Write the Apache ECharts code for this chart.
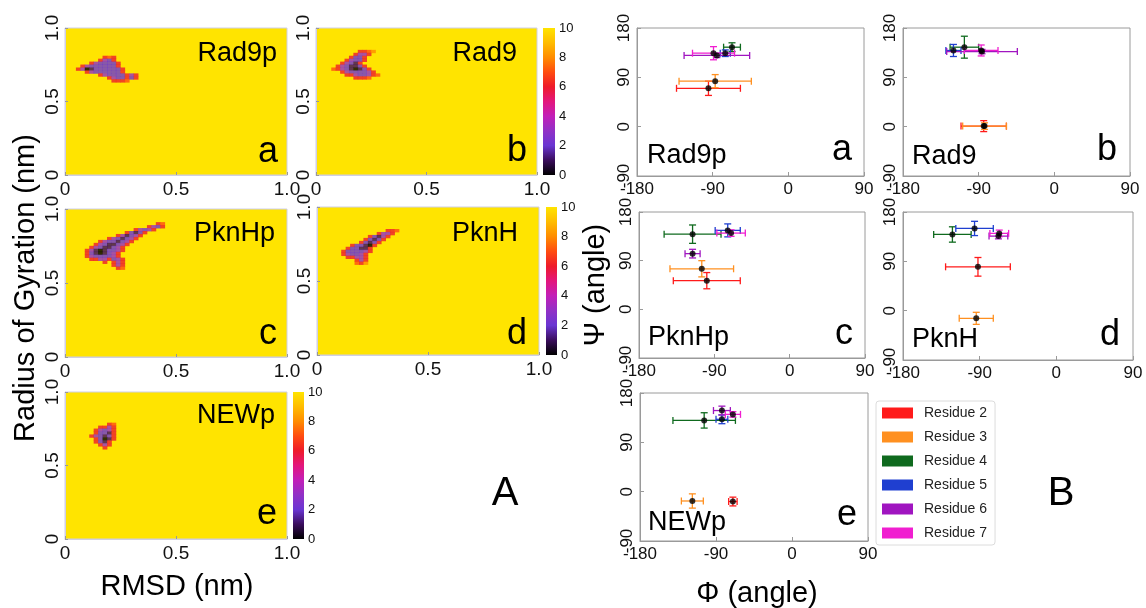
<!DOCTYPE html>
<html>
<head>
<meta charset="utf-8">
<script src="https://cdn.jsdelivr.net/npm/echarts@6/dist/echarts.min.js"></script>
<style>
  html, body { margin: 0; padding: 0; background: #fff; }
  #chart { width: 1146px; height: 608px; }
</style>
</head>
<body>
<div id="chart"></div>
<script>
// ---- A: free energy maps (RMSD vs Rg). only the low basin is listed, every other cell is 10 (yellow)
// one char per 0.02 x 0.02 cell, '.' = 10, rows go downwards from y0
const cellStep = 0.02;
const rad9pCells = { x0: 0.06, y0: 0.80, rows: [
  '......676.....',
  '.....6326.....',
  '...6322226....',
  '.632222226....',
  '63012222226...',
  '..632222226...',
  '.....632222636',
  '.......6322626',
  '........6667..'
]};
const rad9Cells = { x0: 0.08, y0: 0.84, rows: [
  '......6678.',
  '.....6336..',
  '....6226...',
  '...63226...',
  '..63216....',
  '.6321126...',
  '763210126..',
  '..63222236.',
  '...66322367',
  '.....6667..'
]};
const pknHpCells = { x0: 0.10, y0: 0.90, rows: [
  '................67',
  '..............6326',
  '...........63236..',
  '.........62126....',
  '.......631236.....',
  '.....6321236......',
  '...63221236.......',
  '..63211236........',
  '.63211236.........',
  '631012236.........',
  '62101236..........',
  '63222236..........',
  '.66336236.........',
  '....6.636.........',
  '......636.........',
  '.......67.........'
]};
const pknHCells = { x0: 0.12, y0: 0.84, rows: [
  '..........667',
  '........6336.',
  '......62136..',
  '.....62126...',
  '....62126....',
  '..622106.....',
  '.622116......',
  '6222236......',
  '632236.......',
  '.66336.......',
  '...636.......',
  '...768.......'
]};
const newpCells = { x0: 0.12, y0: 0.78, rows: [
  '....67.',
  '..6636.',
  '.63236.',
  '.62216.',
  '632126.',
  '.62016.',
  '.6216..',
  '..636..',
  '...6...'
]};
const cbTicks = [0, 2, 4, 6, 8, 10];

// ---- B: mean phi, psi and their spread, residue 2..7
const residues = ['Residue 2', 'Residue 3', 'Residue 4', 'Residue 5', 'Residue 6', 'Residue 7'];
// [phi, psi, phi err, psi err]
const rad9pAngles = [[-95, 70, 38, 13], [-87, 83, 43, 12], [-67, 145, 10, 8], [-75, 134, 6, 6], [-85, 130, 39, 4], [-89, 134, 25, 12]];
const rad9Angles = [[-84, 1, 27, 10], [-83, 1, 26, 6], [-107, 145, 17, 20], [-120, 139, 9, 11], [-86, 137, 42, 4], [-87, 139, 20, 10]];
const pknHpAngles = [[-99, 53, 40, 15], [-105, 75, 38, 15], [-116, 139, 34, 17], [-74, 146, 15, 12], [-116, 103, 9, 8], [-70, 141, 17, 6]];
const pknHAngles = [[-92, 80, 38, 17], [-94, -14, 20, 11], [-122, 139, 22, 14], [-96, 150, 22, 13], [-68, 136, 11, 5], [-67, 141, 11, 6]];
const newpAngles = [[-70, -18, 5, 8], [-118, -17, 13, 13], [-104, 130, 37, 14], [-83, 132, 7, 8], [-83, 148, 10, 8], [-70, 141, 9, 5]];

const panelNames = ['Rad9p', 'Rad9', 'PknHp', 'PknH', 'NEWp'];
const panelLetters = ['a', 'b', 'c', 'd', 'e'];

const FONT = 'Liberation Sans, Arial, sans-serif';
const palette = ['#000000', '#3a0d5c', '#6a36d2', '#9131c6', '#c21fb8', '#e3167c', '#ee1b2a', '#ff4c10', '#ff8c00', '#ffbc00', '#ffe400'];
const residueColors = ['#ff1a1a', '#ff9020', '#0f6a1e', '#1f3fd0', '#a015c0', '#f01ed0'];

const heatLayout = [
  { left: 65, top: 28, width: 222, height: 147 },
  { left: 316, top: 28, width: 221, height: 147 },
  { left: 65, top: 209, width: 222, height: 148 },
  { left: 317, top: 207, width: 222, height: 148 },
  { left: 65, top: 392, width: 222, height: 147 }
];
const cbLayout = [
  { left: 543, top: 28, width: 12, height: 147 },
  { left: 546, top: 207, width: 11, height: 148 },
  { left: 293, top: 392, width: 11, height: 147 }
];
const ramaLayout = [
  { left: 637, top: 28, width: 227, height: 148 },
  { left: 903, top: 28, width: 227, height: 148 },
  { left: 639, top: 212, width: 226, height: 146 },
  { left: 903, top: 212, width: 230, height: 148 },
  { left: 640, top: 393, width: 228, height: 148 }
];

function toCells(blob) {
  const out = [];
  blob.rows.forEach(function (row, j) {
    for (let i = 0; i < row.length; i++) {
      if (row[i] === '.') continue;
      out.push([+(blob.x0 + i * cellStep).toFixed(3), +(blob.y0 - j * cellStep).toFixed(3), Number(row[i])]);
    }
  });
  return out;
}

function errorBars(color) {
  return function (params, api) {
    const c = api.coord([api.value(0), api.value(1)]);
    const half = api.size([api.value(2), api.value(3)]);
    const dx = half[0], dy = half[1], cap = 3.5;
    const seg = function (x1, y1, x2, y2) {
      return { type: 'line', shape: { x1: x1, y1: y1, x2: x2, y2: y2 }, style: { stroke: color, lineWidth: 1.3 } };
    };
    return { type: 'group', children: [
      seg(c[0] - dx, c[1], c[0] + dx, c[1]),
      seg(c[0] - dx, c[1] - cap, c[0] - dx, c[1] + cap),
      seg(c[0] + dx, c[1] - cap, c[0] + dx, c[1] + cap),
      seg(c[0], c[1] - dy, c[0], c[1] + dy),
      seg(c[0] - cap, c[1] - dy, c[0] + cap, c[1] - dy),
      seg(c[0] - cap, c[1] + dy, c[0] + cap, c[1] + dy)
    ]};
  };
}

const heatBlobs = [rad9pCells, rad9Cells, pknHpCells, pknHCells, newpCells];
const ramaSets = [rad9pAngles, rad9Angles, pknHpAngles, pknHAngles, newpAngles];

const grid = [], xAxis = [], yAxis = [], series = [];

// heat panels
heatLayout.forEach(function (g, i) {
  grid.push(Object.assign({ show: true, backgroundColor: palette[10], borderColor: '#cfcfe4', borderWidth: 1, outerBoundsMode: 'none' }, g));
  const lab = { fontSize: 19, color: '#111', fontFamily: FONT, formatter: function (v) { return v === 0 ? '0' : v.toFixed(1); } };
  xAxis.push({ type: 'value', gridIndex: grid.length - 1, min: 0, max: 1, interval: 0.5,
    axisLine: { onZero: false, lineStyle: { color: '#cfcfe4' } }, axisTick: { inside: true, length: 3, lineStyle: { color: '#999' } },
    splitLine: { show: false }, axisLabel: Object.assign({ margin: 5 }, lab) });
  yAxis.push({ type: 'value', gridIndex: grid.length - 1, min: 0, max: 1, interval: 0.5,
    axisLine: { show: true, onZero: false, lineStyle: { color: '#cfcfe4' } }, axisTick: { show: true, inside: true, length: 3, lineStyle: { color: '#999' } },
    splitLine: { show: false }, axisLabel: Object.assign({ margin: 3, rotate: 90 }, lab) });
  series.push({ type: 'scatter', xAxisIndex: xAxis.length - 1, yAxisIndex: yAxis.length - 1, silent: true,
    symbol: 'rect', symbolSize: [g.width * cellStep + 0.4, g.height * cellStep + 0.4],
    data: toCells(heatBlobs[i]) });
});

// colour bars
cbLayout.forEach(function (g) {
  grid.push(Object.assign({ outerBoundsMode: 'none' }, g));
  xAxis.push({ type: 'category', gridIndex: grid.length - 1, data: [''], show: false });
  yAxis.push({ type: 'value', gridIndex: grid.length - 1, position: 'right', min: cbTicks[0], max: cbTicks[cbTicks.length - 1], interval: 2,
    axisLine: { show: false }, axisTick: { show: false }, splitLine: { show: false },
    axisLabel: { fontSize: 13, color: '#111', fontFamily: FONT, margin: 4 } });
  series.push({ type: 'bar', xAxisIndex: xAxis.length - 1, yAxisIndex: yAxis.length - 1, silent: true, barWidth: '100%',
    data: [cbTicks[cbTicks.length - 1]],
    itemStyle: { color: new echarts.graphic.LinearGradient(0, 1, 0, 0, palette.map(function (c, k) { return { offset: k / 10, color: c }; })) } });
});

// ramachandran panels
ramaLayout.forEach(function (g, i) {
  grid.push(Object.assign({ show: true, borderColor: '#9a9a9a', borderWidth: 1, outerBoundsMode: 'none' }, g));
  const gi = grid.length - 1;
  xAxis.push({ type: 'value', gridIndex: gi, min: -180, max: 90, interval: 90,
    axisLine: { onZero: false, lineStyle: { color: '#9a9a9a' } }, axisTick: { inside: true, length: 4, lineStyle: { color: '#9a9a9a' } },
    splitLine: { show: false }, axisLabel: { fontSize: 17, color: '#111', fontFamily: FONT, margin: 5 } });
  yAxis.push({ type: 'value', gridIndex: gi, min: -90, max: 180, interval: 90,
    axisLine: { show: true, onZero: false, lineStyle: { color: '#9a9a9a' } }, axisTick: { show: true, inside: true, length: 4, lineStyle: { color: '#9a9a9a' } },
    splitLine: { show: false }, axisLabel: { fontSize: 17, color: '#111', fontFamily: FONT, margin: 4, rotate: 90 } });
  const set = ramaSets[i];
  residues.forEach(function (name, r) {
    series.push({ type: 'custom', name: name, xAxisIndex: xAxis.length - 1, yAxisIndex: yAxis.length - 1, silent: true,
      itemStyle: { color: residueColors[r] }, encode: { x: 0, y: 1 },
      renderItem: errorBars(residueColors[r]), data: [set[r]] });
  });
  series.push({ type: 'scatter', name: 'mean', xAxisIndex: xAxis.length - 1, yAxisIndex: yAxis.length - 1, silent: true, z: 5,
    symbolSize: 6, itemStyle: { color: '#000' }, data: set.map(function (a) { return [a[0], a[1]]; }) });
});

function txt(x, y, text, size, align, rot) {
  return { type: 'text', x: x, y: y, rotation: rot || 0, silent: true,
    style: { text: text, fontSize: size, fontFamily: FONT, fill: '#000', textAlign: align, textVerticalAlign: 'middle' } };
}

const heatNamePos = [[277, 54], [517, 54], [275, 234], [518, 234], [275, 416]];
const heatLetterPos = [[278, 152], [527, 151], [277, 334], [527, 334], [277, 514]];
const ramaNamePos = [[647, 156], [912, 157], [648, 338], [912, 340], [648, 523]];
const ramaLetterPos = [[852, 150], [1117, 150], [853, 334], [1120, 335], [857, 515]];

const graphic = [];
panelNames.forEach(function (n, i) {
  graphic.push(txt(heatNamePos[i][0], heatNamePos[i][1], n, 27, 'right'));
  graphic.push(txt(heatLetterPos[i][0], heatLetterPos[i][1], panelLetters[i], 36, 'right'));
  graphic.push(txt(ramaNamePos[i][0], ramaNamePos[i][1], n, 27, 'left'));
  graphic.push(txt(ramaLetterPos[i][0], ramaLetterPos[i][1], panelLetters[i], 36, 'right'));
});
graphic.push(txt(505, 494, 'A', 40, 'center'));
graphic.push(txt(1061, 494, 'B', 40, 'center'));
graphic.push(txt(177, 587, 'RMSD (nm)', 29, 'center'));
graphic.push(txt(757, 594, 'Φ (angle)', 29, 'center'));
graphic.push(txt(26, 288, 'Radius of Gyration (nm)', 29, 'center', Math.PI / 2));
graphic.push(txt(596, 285, 'Ψ (angle)', 29, 'center', Math.PI / 2));

const chart = echarts.init(document.getElementById('chart'));
chart.setOption({
  animation: false,
  backgroundColor: '#fff',
  grid: grid,
  xAxis: xAxis,
  yAxis: yAxis,
  visualMap: { type: 'continuous', show: false, min: 0, max: 10, dimension: 2, seriesIndex: [0, 1, 2, 3, 4], inRange: { color: palette } },
  legend: {
    data: residues.map(function (n, i) { return { name: n, itemStyle: { color: residueColors[i] } }; }),
    orient: 'vertical', left: 876, top: 401, padding: [5, 8, 5, 6], itemGap: 10,
    itemWidth: 31, itemHeight: 11, icon: 'rect', selectedMode: false,
    borderColor: '#dcdcdc', borderWidth: 1, borderRadius: 3,
    textStyle: { fontSize: 14, color: '#222', fontFamily: FONT, padding: [0, 0, 0, 6] }
  },
  graphic: graphic,
  series: series
});
</script>
</body>
</html>
